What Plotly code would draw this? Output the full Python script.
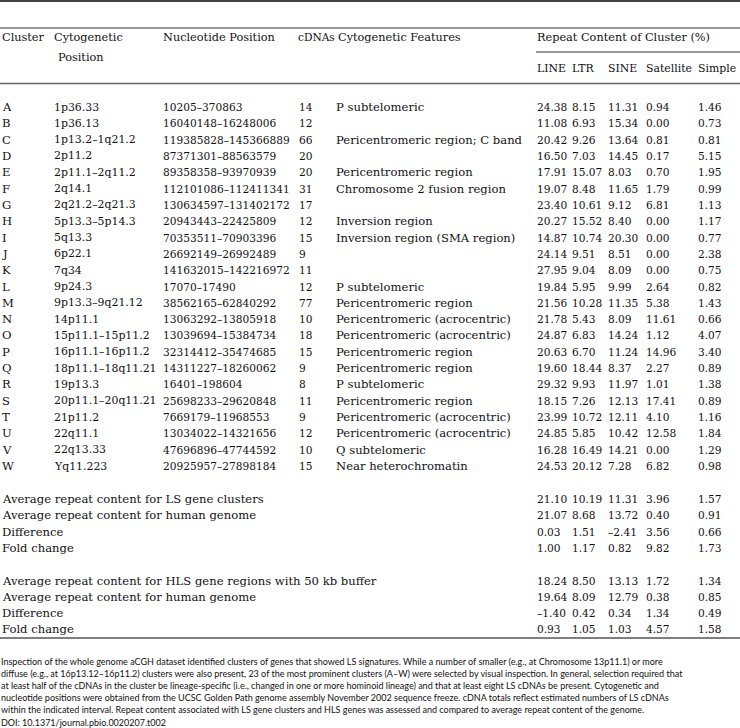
import plotly.graph_objects as go

# ---------------- data ----------------
clusters = list("ABCDEFGHIJKLMNOPQRSTUVW")
cyto_pos = ["1p36.33", "1p36.13", "1p13.2–1q21.2", "2p11.2", "2p11.1–2q11.2", "2q14.1",
            "2q21.2–2q21.3", "5p13.3–5p14.3", "5q13.3", "6p22.1", "7q34", "9p24.3",
            "9p13.3–9q21.12", "14p11.1", "15p11.1–15p11.2", "16p11.1–16p11.2",
            "18p11.1–18q11.21", "19p13.3", "20p11.1–20q11.21", "21p11.2", "22q11.1",
            "22q13.33", "Yq11.223"]
nucl_pos = ["10205–370863", "16040148–16248006", "119385828–145366889", "87371301–88563579",
            "89358358–93970939", "112101086–112411341", "130634597–131402172",
            "20943443–22425809", "70353511–70903396", "26692149–26992489",
            "141632015–142216972", "17070–17490", "38562165–62840292", "13063292–13805918",
            "13039694–15384734", "32314412–35474685", "14311227–18260062", "16401–198604",
            "25698233–29620848", "7669179–11968553", "13034022–14321656",
            "47696896–47744592", "20925957–27898184"]
cdnas = [14, 12, 66, 20, 20, 31, 17, 12, 15, 9, 11, 12, 77, 10, 18, 15, 9, 8, 11, 9, 12, 10, 15]
features = ["P subtelomeric", "", "Pericentromeric region; C band", "", "Pericentromeric region",
            "Chromosome 2 fusion region", "", "Inversion region", "Inversion region (SMA region)",
            "", "", "P subtelomeric", "Pericentromeric region", "Pericentromeric (acrocentric)",
            "Pericentromeric (acrocentric)", "Pericentromeric region", "Pericentromeric region",
            "P subtelomeric", "Pericentromeric region", "Pericentromeric (acrocentric)",
            "Pericentromeric (acrocentric)", "Q subtelomeric", "Near heterochromatin"]
line_pct = [24.38, 11.08, 20.42, 16.50, 17.91, 19.07, 23.40, 20.27, 14.87, 24.14, 27.95, 19.84,
            21.56, 21.78, 24.87, 20.63, 19.60, 29.32, 18.15, 23.99, 24.85, 16.28, 24.53]
ltr_pct = [8.15, 6.93, 9.26, 7.03, 15.07, 8.48, 10.61, 15.52, 10.74, 9.51, 9.04, 5.95,
           10.28, 5.43, 6.83, 6.70, 18.44, 9.93, 7.26, 10.72, 5.85, 16.49, 20.12]
sine_pct = [11.31, 15.34, 13.64, 14.45, 8.03, 11.65, 9.12, 8.40, 20.30, 8.51, 8.09, 9.99,
            11.35, 8.09, 14.24, 11.24, 8.37, 11.97, 12.13, 12.11, 10.42, 14.21, 7.28]
satellite_pct = [0.94, 0.00, 0.81, 0.17, 0.70, 1.79, 6.81, 0.00, 0.00, 0.00, 0.00, 2.64,
                 5.38, 11.61, 1.12, 14.96, 2.27, 1.01, 17.41, 4.10, 12.58, 0.00, 6.82]
simple_pct = [1.46, 0.73, 0.81, 5.15, 1.95, 0.99, 1.13, 1.17, 0.77, 2.38, 0.75, 0.82,
              1.43, 0.66, 4.07, 3.40, 0.89, 1.38, 0.89, 1.16, 1.84, 1.29, 0.98]

summary1_labels = ["Average repeat content for LS gene clusters", "Average repeat content for human genome",
                   "Difference", "Fold change"]
summary1_values = [[21.10, 10.19, 11.31, 3.96, 1.57],
                   [21.07, 8.68, 13.72, 0.40, 0.91],
                   [0.03, 1.51, -2.41, 3.56, 0.66],
                   [1.00, 1.17, 0.82, 9.82, 1.73]]
summary2_labels = ["Average repeat content for HLS gene regions with 50 kb buffer",
                   "Average repeat content for human genome", "Difference", "Fold change"]
summary2_values = [[18.24, 8.50, 13.13, 1.72, 1.34],
                   [19.64, 8.09, 12.79, 0.38, 0.85],
                   [-1.40, 0.42, 0.34, 1.34, 0.49],
                   [0.93, 1.05, 1.03, 4.57, 1.58]]

repeat_cols = ["LINE", "LTR", "SINE", "Satellite", "Simple"]

footnote_lines = [
    "Inspection of the whole genome aCGH dataset identified clusters of genes that showed LS signatures. While a number of smaller (e.g., at Chromosome 13p11.1) or more",
    "diffuse (e.g., at 16p13.12–16p11.2) clusters were also present, 23 of the most prominent clusters (A–W) were selected by visual inspection. In general, selection required that",
    "at least half of the cDNAs in the cluster be lineage-specific (i.e., changed in one or more hominoid lineage) and that at least eight LS cDNAs be present. Cytogenetic and",
    "nucleotide positions were obtained from the UCSC Golden Path genome assembly November 2002 sequence freeze. cDNA totals reflect estimated numbers of LS cDNAs",
    "within the indicated interval. Repeat content associated with LS gene clusters and HLS genes was assessed and compared to average repeat content of the genome.",
    "DOI: 10.1371/journal.pbio.0020207.t002",
]

# ---------------- layout / style ----------------
W, H = 740, 728
SERIF = "DejaVu Serif"
FS = 11.6          # text cells
FS_NUM = 10.6      # numeric cells
SANS = "Lato"
FS_NOTE = 9.0
TXT = "#111111"

col_x = {"cluster": 1, "cyto": 53, "nucl": 162, "cdna": 298, "feat": 335}
rep_x = [536, 571, 607, 645, 697]
row0_y, row_dy = 107, 16.32
sum1_y0 = 499
sum2_y0 = 580.5
note_y0, note_dy = 661, 12.2


def fmt(v):
    s = f"{abs(v):.2f}"
    return ("–" + s) if v < 0 else s


fig = go.Figure()
ann = []


def add_text(x, y, t, font=SERIF, size=FS):
    ann.append(dict(x=x, y=y, xref="x", yref="y", text=t, showarrow=False,
                    xanchor="left", yanchor="middle", borderpad=0,
                    font=dict(family=font, size=size, color=TXT)))


# header
hy1, hy2, hy3 = 37, 57, 68
add_text(col_x["cluster"], hy1, "Cluster", size=11.3)
add_text(col_x["cyto"], hy1, "Cytogenetic", size=11.3)
add_text(col_x["cyto"] + 4, hy2, "Position", size=11.3)
add_text(col_x["nucl"], hy1, "Nucleotide Position", size=11.3)
add_text(col_x["cdna"] - 1, hy1, "cDNAs", size=10.6)
add_text(col_x["feat"] + 1.5, hy1, "Cytogenetic Features", size=11.3)
add_text(rep_x[0], hy1, "Repeat Content of Cluster (%)", size=11.3)
for x, name in zip(rep_x, repeat_cols):
    add_text(x, hy3, name, size=10.9)

# body rows
for i in range(len(clusters)):
    y = row0_y + i * row_dy
    add_text(col_x["cluster"], y, clusters[i])
    add_text(col_x["cyto"], y, cyto_pos[i], size=FS_NUM + 0.3)
    add_text(col_x["nucl"], y, nucl_pos[i], size=FS_NUM)
    add_text(col_x["cdna"], y, str(cdnas[i]), size=FS_NUM)
    if features[i]:
        add_text(col_x["feat"], y, features[i])
    vals = [line_pct[i], ltr_pct[i], sine_pct[i], satellite_pct[i], simple_pct[i]]
    for x, v in zip(rep_x, vals):
        add_text(x, y, fmt(v), size=FS_NUM)

# summary blocks
for y0, labels, values in [(sum1_y0, summary1_labels, summary1_values),
                           (sum2_y0, summary2_labels, summary2_values)]:
    for j, (lab, vals) in enumerate(zip(labels, values)):
        y = y0 + j * row_dy
        add_text(col_x["cluster"], y, lab)
        for x, v in zip(rep_x, vals):
            add_text(x, y, fmt(v), size=FS_NUM)

# footnote
for k, t in enumerate(footnote_lines):
    add_text(0, note_y0 + k * note_dy, t, font=SANS, size=FS_NOTE)

# rules
shapes = [
    dict(type="line", x0=0, x1=W, y0=1, y1=1, line=dict(color="#000000", width=1.6)),
    dict(type="line", x0=0, x1=W, y0=28, y1=28, line=dict(color="#333333", width=1)),
    dict(type="line", x0=rep_x[0], x1=W, y0=52, y1=52, line=dict(color="#333333", width=1)),
    dict(type="line", x0=0, x1=W, y0=83.5, y1=83.5, line=dict(color="#666666", width=1.6)),
    dict(type="line", x0=0, x1=W, y0=638, y1=638, line=dict(color="#000000", width=1.2)),
]
for s in shapes:
    s.update(xref="x", yref="y")

fig.update_layout(
    width=W, height=H,
    margin=dict(l=0, r=0, t=0, b=0),
    paper_bgcolor="white", plot_bgcolor="white",
    xaxis=dict(range=[0, W], visible=False, fixedrange=True),
    yaxis=dict(range=[H, 0], visible=False, fixedrange=True),
    annotations=ann, shapes=shapes, showlegend=False,
)
fig.write_html("out.html",
               config={"displayModeBar": False, "staticPlot": True},
               post_script="document.body.style.margin='0px';document.body.style.overflow='hidden';")
